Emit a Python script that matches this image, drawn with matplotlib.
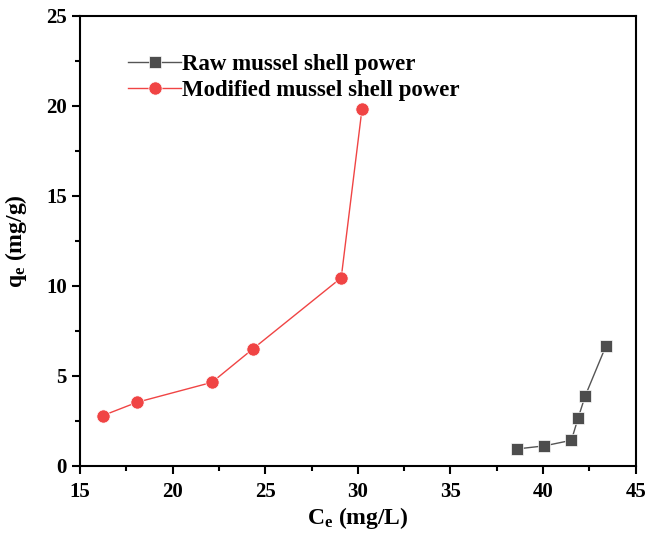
import matplotlib
matplotlib.use("Agg")
import matplotlib.pyplot as plt
from matplotlib.ticker import MultipleLocator

plt.rcParams['font.family'] = ['Liberation Serif', 'DejaVu Serif']
plt.rcParams['font.weight'] = 'bold'
plt.rcParams['mathtext.fontset'] = 'custom'
plt.rcParams['mathtext.rm'] = 'Liberation Serif:bold'
plt.rcParams['mathtext.bf'] = 'Liberation Serif:bold'
plt.rcParams['mathtext.default'] = 'bf'

# Raw mussel shell power
raw_ce = [38.6, 40.07, 41.53, 41.9, 42.27, 43.39]
raw_qe = [0.93, 1.1, 1.41, 2.67, 3.86, 6.64]

# Modified mussel shell power
mod_ce = [16.22, 18.07, 22.12, 24.32, 29.1, 30.22]
mod_qe = [2.78, 3.52, 4.63, 6.48, 10.44, 19.8]

fig = plt.figure(figsize=(6.46, 5.44), dpi=100)
ax = fig.add_axes([0.124, 0.144, 0.86, 0.827])

ax.plot(raw_ce, raw_qe, color='#555555', lw=1.0, marker='s', ms=8.5,
        mfc='#4d4d4d', mec='white', mew=0.5, label='Raw mussel shell power')
ax.plot(mod_ce, mod_qe, color='#f04444', lw=1.0, marker='o', ms=9.5,
        mfc='#f04444', mec='white', mew=0.5, label='Modified mussel shell power')

ax.set_xlim(15, 45)
ax.set_ylim(0, 25)
ax.xaxis.set_major_locator(MultipleLocator(5))
ax.xaxis.set_minor_locator(MultipleLocator(2.5))
ax.yaxis.set_major_locator(MultipleLocator(5))
ax.yaxis.set_minor_locator(MultipleLocator(2.5))
ax.tick_params(which='both', direction='out', width=1.5, labelsize=15, top=False, right=False)
ax.tick_params(which='major', length=6)
ax.tick_params(axis='x', which='major', pad=6)
ax.tick_params(which='minor', length=3.5)
for s in ax.spines.values():
    s.set_linewidth(1.5)

ax.set_xlabel(r'C$_e$ (mg/L)', fontsize=17, fontweight='bold', labelpad=2)
ax.set_ylabel(r'q$_e$ (mg/g)', fontsize=17, fontweight='bold', labelpad=12)

ax.legend(loc='upper left', bbox_to_anchor=(0.07, 0.935), frameon=False,
          fontsize=16.5, handlelength=2.3, handletextpad=0.05, labelspacing=0.2,
          borderaxespad=0)

fig.savefig('out.png', dpi=100)
